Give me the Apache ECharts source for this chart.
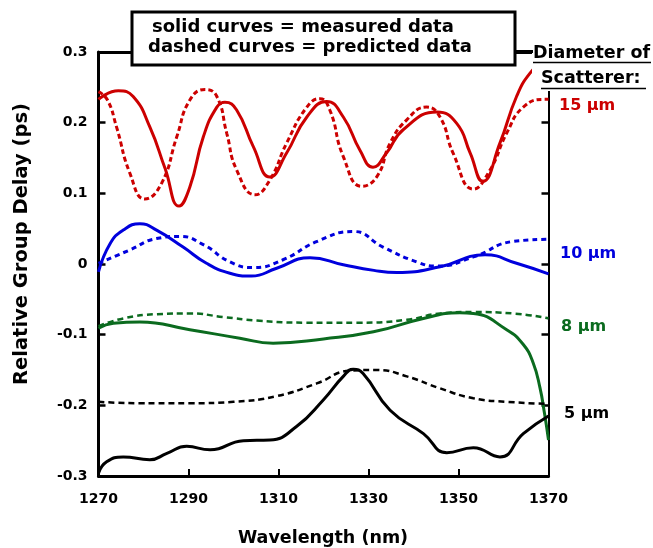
<!DOCTYPE html>
<html>
<head>
<meta charset="utf-8">
<script src="https://cdn.jsdelivr.net/npm/echarts@6/dist/echarts.min.js"></script>
<style>
  html, body { margin: 0; padding: 0; background: #fff; }
  #chart { width: 653px; height: 548px; }
</style>
</head>
<body>
<div id="chart"></div>
<script>
'use strict'

// wavelength (nm), relative group delay (ps)
const d15Measured = [[1270,0.233],[1274.4,0.245],[1277.7,0.237],[1281.4,0.194],[1284.8,0.135],[1287.9,0.082],[1290.3,0.109],[1293.3,0.18],[1296.3,0.222],[1298.1,0.229],[1300.7,0.218],[1304.4,0.166],[1308.1,0.123],[1311.8,0.157],[1316.3,0.208],[1320.7,0.23],[1324.4,0.208],[1328.1,0.161],[1331,0.137],[1334,0.157],[1337.7,0.19],[1345.2,0.215],[1349.6,0.199],[1352.6,0.157],[1355.4,0.117],[1359.2,0.171],[1362.9,0.237],[1365.9,0.27],[1370,0.295]];
const d15Predicted = [[1270,0.244],[1272,0.232],[1274,0.194],[1277,0.128],[1280.3,0.092],[1284,0.114],[1287.4,0.18],[1290.3,0.232],[1293.7,0.247],[1296.3,0.237],[1298.5,0.185],[1300.7,0.133],[1304.8,0.098],[1308.1,0.119],[1311.8,0.171],[1316.3,0.222],[1319.2,0.234],[1321.4,0.218],[1324.4,0.152],[1328.5,0.11],[1331.9,0.124],[1334.8,0.171],[1338.5,0.204],[1342.9,0.222],[1345.9,0.208],[1348.8,0.157],[1353.3,0.106],[1357,0.133],[1360.7,0.185],[1364.4,0.222],[1369.2,0.233],[1370,0.233]];
const d10Measured = [[1270,-0.011],[1272.6,0.029],[1275.5,0.048],[1279.2,0.057],[1282.9,0.048],[1288.8,0.024],[1294,0.001],[1299.2,-0.013],[1304,-0.017],[1309.6,-0.006],[1317,0.009],[1324.4,-0.001],[1331.2,-0.009],[1336.3,-0.012],[1345.9,-0.004],[1355.9,0.013],[1362.9,0.001],[1370,-0.014]];
const d10Predicted = [[1270,0.001],[1277,0.02],[1282.9,0.036],[1288.1,0.039],[1293.4,0.027],[1299.2,0.003],[1304.4,-0.005],[1311,0.006],[1318.6,0.032],[1326.6,0.046],[1333.2,0.024],[1340.7,0.003],[1345.2,-0.003],[1353.3,0.01],[1362.2,0.032],[1370,0.035]];
const d8Measured = [[1270,-0.091],[1273.3,-0.084],[1279.2,-0.082],[1290.3,-0.093],[1301.4,-0.105],[1308.8,-0.112],[1320,-0.106],[1331.1,-0.096],[1342.2,-0.077],[1350.3,-0.069],[1353.3,-0.07],[1360.7,-0.093],[1364.4,-0.114],[1366.6,-0.14],[1368.1,-0.175],[1369.1,-0.211],[1370,-0.249]];
const d8Predicted = [[1270,-0.088],[1275.5,-0.077],[1283,-0.071],[1290.3,-0.07],[1297.7,-0.075],[1305.2,-0.08],[1316.3,-0.083],[1327.4,-0.083],[1338.5,-0.079],[1345.9,-0.07],[1353.3,-0.068],[1362.2,-0.07],[1370,-0.077]];
const d5Measured = [[1270,-0.296],[1271.8,-0.28],[1275.5,-0.273],[1281.4,-0.277],[1285.2,-0.268],[1289.6,-0.258],[1294.8,-0.263],[1302.2,-0.25],[1308.1,-0.249],[1314,-0.23],[1320,-0.192],[1324.4,-0.159],[1326.6,-0.149],[1328.8,-0.155],[1334.8,-0.207],[1342.2,-0.24],[1347.4,-0.267],[1353.3,-0.26],[1359.2,-0.273],[1364.4,-0.24],[1370,-0.215]];
const d5Predicted = [[1270,-0.195],[1279.2,-0.197],[1290.3,-0.197],[1300,-0.195],[1309.6,-0.187],[1318.5,-0.169],[1325.9,-0.151],[1331.8,-0.15],[1338.5,-0.159],[1345.9,-0.176],[1353.3,-0.19],[1360.7,-0.195],[1370,-0.198]];

const sizeLabels = ['15 \u03bcm', '10 \u03bcm', '8 \u03bcm', '5 \u03bcm'];
const sizeColors = ['#cc0000', '#0000dd', '#0b6b1f', '#000000'];

const FONT = '"DejaVu Sans", sans-serif';

let chart = echarts.init(document.getElementById('chart'));

function line(data, color, dashed, width) {
  return {
    type: 'line',
    data: data,
    xAxisIndex: 0,
    yAxisIndex: 0,
    showSymbol: false,
    smooth: 0.5,
    animation: false,
    lineStyle: {color: color, width: width, type: dashed ? dashed : 'solid'}
  };
}

let option = {
  backgroundColor: '#fff',
  animation: false,
  grid: {left: 98.5, top: 52, width: 450, height: 424, containLabel: false},
  xAxis: [{
    type: 'value', min: 1270, max: 1370, interval: 20,
    axisLine: {onZero: false, lineStyle: {color: '#000', width: 3}},
    axisTick: {inside: true, length: 7, lineStyle: {color: '#000', width: 2}},
    axisLabel: {color: '#000', fontFamily: FONT, fontWeight: 'bold', fontSize: 14, margin: 16,
      formatter: v => String(v)},
    splitLine: {show: false}
  }, {
    type: 'value', min: 1270, max: 1370, position: 'top',
    axisLine: {onZero: false, lineStyle: {color: '#000', width: 3}},
    axisTick: {show: false}, axisLabel: {show: false}, splitLine: {show: false}
  }],
  yAxis: [{
    type: 'value', min: -0.3, max: 0.3, interval: 0.1,
    axisLine: {onZero: false, lineStyle: {color: '#000', width: 3}},
    axisTick: {inside: true, length: 7, lineStyle: {color: '#000', width: 2.5}},
    axisLabel: {
      color: '#000', fontFamily: FONT, fontWeight: 'bold', fontSize: 14, margin: 11,
      formatter: v => String(Math.round(v * 10) / 10)
    },
    splitLine: {show: false}
  }, {
    type: 'value', min: -0.3, max: 0.3, interval: 0.1, position: 'right',
    axisLine: {onZero: false, lineStyle: {color: '#000', width: 2}},
    axisTick: {inside: true, length: 7, lineStyle: {color: '#000', width: 2.5}},
    axisLabel: {show: false}, splitLine: {show: false}
  }],
  series: [
    line(d15Predicted, sizeColors[0], [5, 3], 3),
    line(d15Measured, sizeColors[0], null, 3),
    line(d10Predicted, sizeColors[1], [5, 4], 3),
    line(d10Measured, sizeColors[1], null, 3),
    line(d8Predicted, sizeColors[2], [6, 4], 2.5),
    line(d8Measured, sizeColors[2], null, 3),
    line(d5Predicted, sizeColors[3], [6, 4], 2.5),
    line(d5Measured, sizeColors[3], null, 3)
  ],
  graphic: [
    // legend box
    {type: 'rect', z: 100, shape: {x: 132, y: 12, width: 383, height: 53},
      style: {fill: '#fff', stroke: '#000', lineWidth: 3}},
    {type: 'text', z: 101, x: 152, y: 27,
      style: {text: 'solid curves = measured data', font: 'bold 18px ' + FONT, fill: '#000', textVerticalAlign: 'middle'}},
    {type: 'text', z: 101, x: 148, y: 47,
      style: {text: 'dashed curves = predicted data', font: 'bold 18px ' + FONT, fill: '#000', textVerticalAlign: 'middle'}},
    // connector and header of the size column
    {type: 'rect', z: 100, shape: {x: 532, y: 38, width: 121, height: 53}, style: {fill: '#fff'}},
    {type: 'line', z: 101, shape: {x1: 515, y1: 51.5, x2: 533, y2: 51.5}, style: {stroke: '#000', lineWidth: 3}},
    {type: 'text', z: 101, x: 533, y: 53,
      style: {text: 'Diameter of', font: 'bold 17.5px ' + FONT, fill: '#000', textVerticalAlign: 'middle'}},
    {type: 'line', z: 101, shape: {x1: 533, y1: 62.5, x2: 651, y2: 62.5}, style: {stroke: '#000', lineWidth: 1.5}},
    {type: 'text', z: 101, x: 541, y: 78,
      style: {text: 'Scatterer:', font: 'bold 17.5px ' + FONT, fill: '#000', textVerticalAlign: 'middle'}},
    {type: 'line', z: 101, shape: {x1: 541, y1: 88.5, x2: 646, y2: 88.5}, style: {stroke: '#000', lineWidth: 1.5}},
    // size labels
    {type: 'text', z: 101, left: 559, top: 98,
      style: {text: sizeLabels[0], font: 'bold 16px ' + FONT, fill: sizeColors[0]}},
    {type: 'text', z: 101, left: 560, top: 246,
      style: {text: sizeLabels[1], font: 'bold 16px ' + FONT, fill: sizeColors[1]}},
    {type: 'text', z: 101, left: 561, top: 319,
      style: {text: sizeLabels[2], font: 'bold 16px ' + FONT, fill: sizeColors[2]}},
    {type: 'text', z: 101, left: 564, top: 406,
      style: {text: sizeLabels[3], font: 'bold 16px ' + FONT, fill: sizeColors[3]}},
    // axis titles
    {type: 'text', z: 101, x: 22, y: 244, rotation: Math.PI / 2,
      style: {text: 'Relative Group Delay (ps)', font: 'bold 19.5px ' + FONT, fill: '#000',
        textAlign: 'center', textVerticalAlign: 'middle'}},
    {type: 'text', z: 101, x: 323, y: 538,
      style: {text: 'Wavelength (nm)', font: 'bold 17.5px ' + FONT, fill: '#000',
        textAlign: 'center', textVerticalAlign: 'middle'}}
  ]
};

chart.setOption(option);
</script>
</body>
</html>
